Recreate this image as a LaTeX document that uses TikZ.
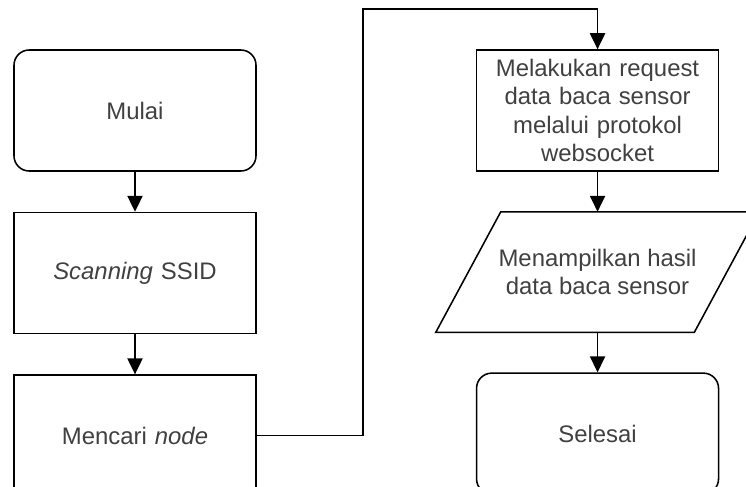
\documentclass[tikz,border=0pt]{standalone}
\usepackage{fontspec}
\setmainfont{Liberation Sans}
\usepackage{xcolor}
\usepackage{tikz}
\usetikzlibrary{arrows.meta, positioning}

\begin{document}
\begin{tikzpicture}[
  node distance=1cm and 5.475cm,
  box/.style={draw, line width=1.1pt, align=center, text=black!75,
    font=\fontsize{17}{20}\selectfont, minimum width=6.05cm,
    minimum height=3.025cm, inner sep=2pt, text width=5.8cm},
  term/.style={box, rounded corners=0.38cm},
  io/.style={align=center, text=black!75, font=\fontsize{17}{20}\selectfont,
    minimum width=6.45cm, minimum height=3cm, inner sep=0pt},
  arr/.style={-{Triangle[length=4mm, width=3.8mm]}, line width=1.1pt}
]
\useasboundingbox (0,0) rectangle (18.65,-12.15);
\clip (0,0) rectangle (18.65,-12.15);

\node[term] (mulai) at (3.375,-2.7625) {Mulai};
\node[box, below=of mulai] (scan) {\textit{Scanning} SSID};
\node[box, below=of scan] (cari) {Mencari \textit{node}};

\node[box, right=of mulai] (request) {Melakukan request\\data baca sensor\\melalui protokol\\websocket};
\node[io, below=of request] (tampil) {Menampilkan hasil\\data baca sensor};
\node[term, below=of tampil] (selesai) {Selesai};

% parallelogram for output
\draw[line width=1.1pt] ([xshift=0.8125cm]tampil.north west) -- ([xshift=0.8125cm]tampil.north east)
  -- ([xshift=-0.8125cm]tampil.south east) -- ([xshift=-0.8125cm]tampil.south west) -- cycle;

\coordinate (belok) at (9.075,-0.225);

\draw[arr] (mulai) -- (scan);
\draw[arr] (scan) -- (cari);
\draw[arr] (cari.east) -| (belok) -| (request.north);
\draw[arr] (request) -- (tampil);
\draw[arr] (tampil) -- (selesai);
\end{tikzpicture}
\end{document}
